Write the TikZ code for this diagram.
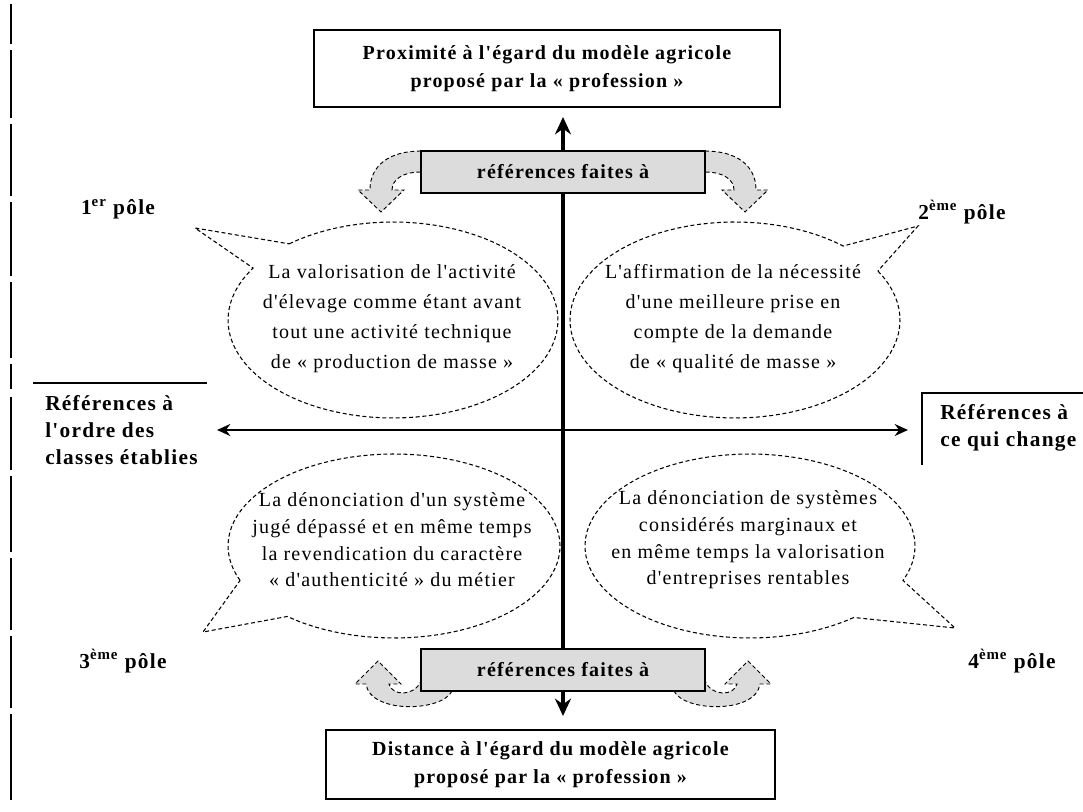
\documentclass[tikz,border=0pt]{standalone}
\usepackage{fontspec}
\setmainfont{Liberation Serif}
\newfontfamily\spaced[LetterSpace=6]{Liberation Serif}
\usetikzlibrary{arrows.meta}
\definecolor{refgray}{HTML}{DCDCDC}

\begin{document}
\begin{tikzpicture}[x=0.75pt,y=-0.75pt,
  frame/.style={draw, line width=1.5pt, fill=white, align=center, inner sep=0pt,
    font=\spaced\fontsize{15}{21}\selectfont\bfseries},
  refbox/.style={draw, line width=1.5pt, fill=refgray, inner sep=0pt,
    minimum width=213pt, minimum height=31.5pt, font=\spaced\fontsize{15}{18}\selectfont\bfseries},
  bubble/.style={draw, line width=0.8pt, dash pattern=on 3pt off 2pt},
  curl/.style={draw, fill=refgray, line width=0.7pt, dash pattern=on 3pt off 2pt},
  bubbletext/.style={align=center, inner sep=0pt, font=\spaced\fontsize{15}{22.5}\selectfont},
  bubbletextlow/.style={align=center, inner sep=0pt, font=\spaced\fontsize{15}{20}\selectfont},
  pole/.style={inner sep=0pt, font=\spaced\fontsize{16}{18}\selectfont\bfseries},
  side/.style={align=left, inner sep=0pt, font=\spaced\fontsize{16}{20.5}\selectfont\bfseries},
  vaxis/.style={line width=3.5pt, {Stealth[length=13pt,width=12pt]}-{Stealth[length=13pt,width=12pt]}},
  haxis/.style={line width=1.3pt, {Stealth[length=10pt,width=9pt]}-{Stealth[length=10pt,width=9pt]}},
  rule/.style={line width=1.3pt}
]
\useasboundingbox (0,0) rectangle (1083,812);

% page margin rule on the left
\foreach \ya/\yb in {4/44, 50/118, 124/196, 202/276, 282/358, 364/389, 397/470, 476/552, 558/630, 636/708, 714/800}
  \draw[rule] (11,\ya) -- (11,\yb);

% curved arrows beside the "références faites à" boxes
\draw[curl] (421,151) .. controls (390,151) and (370,165) .. (370,190)
  -- (358,190) -- (381,212) -- (404,190) -- (392,190)
  .. controls (392,180) and (402,172) .. (421,172) -- cycle;
\draw[curl] (705,151) .. controls (736,151) and (756,165) .. (756,190)
  -- (768,190) -- (745,212) -- (722,190) -- (734,190)
  .. controls (734,180) and (724,172) .. (705,172) -- cycle;
\draw[curl] (452,691) .. controls (442,712) and (370,714) .. (366,684)
  -- (355,684) -- (378,661) -- (401,684) -- (389,684)
  .. controls (392,696) and (414,697) .. (421,681) -- cycle;
\draw[curl] (674,691) .. controls (684,712) and (756,714) .. (760,684)
  -- (771,684) -- (748,661) -- (725,684) -- (737,684)
  .. controls (734,696) and (712,697) .. (705,681) -- cycle;

% speech bubbles
\draw[bubble] plot[domain=231:572, samples=90] ({393+165*cos(\x)},{320+98*sin(\x)}) -- (195,228) -- cycle;
\draw[bubble] plot[domain=330:671, samples=90] ({735+165*cos(\x)},{320+98*sin(\x)}) -- (918,226) -- cycle;
\draw[bubble] plot[domain=158:490, samples=90] ({394+166*cos(\x)},{546+92*sin(\x)}) -- (203,632) -- cycle;
\draw[bubble] plot[domain=51:382, samples=90] ({750+165*cos(\x)},{546+92*sin(\x)}) -- (955,628) -- cycle;

\node[bubbletext] (p1) at (392,319) {La valorisation de l'activité\\d'élevage comme étant avant\\tout une activité technique\\de «~production de masse~»};
\node[bubbletext] (p2) at (733,319) {L'affirmation de la nécessité\\d'une meilleure prise en\\compte de la demande\\de «~qualité de masse~»};
\node[bubbletextlow] (p3) at (392,540) {La dénonciation d'un système\\jugé dépassé et en même temps\\la revendication du caractère\\«~d'authenticité~» du métier};
\node[bubbletextlow] (p4) at (748,540) {La dénonciation de systèmes\\considérés marginaux et\\en même temps la valorisation\\d'entreprises rentables};

% axes
\coordinate (vtop) at (563,117);
\coordinate (vbot) at (563,716);
\coordinate (hleft) at (217,430);
\coordinate (hright) at (908,430);
\draw[vaxis] (vbot) -- (vtop);
\draw[haxis] (hleft) -- (hright);

% reference boxes on the vertical axis
\node[refbox] (reftop) at (563,172) {références faites à};
\node[refbox] (refbot) at (563,670) {références faites à};

% poles of the vertical axis
\node[frame, minimum width=349.5pt, minimum height=57.75pt] (prox) at (547,68.5)
  {Proximité à l'égard du modèle agricole\\proposé par la «~profession~»};
\node[frame, minimum width=336.75pt, minimum height=51.75pt] (dist) at (550.5,764.5)
  {Distance à l'égard du modèle agricole\\proposé par la «~profession~»};

% poles of the horizontal axis
\coordinate (lrA) at (33,383);
\coordinate (lrB) at (207,383);
\draw[rule] (lrA) -- (lrB);
\node[side, anchor=west] (ordre) at (45,430) {Références à\\l'ordre des\\classes établies};
\coordinate (rrA) at (922,465);
\coordinate (rrB) at (922,393);
\coordinate (rrC) at (1083,393);
\draw[rule] (rrA) -- (rrB) -- (rrC);
\node[side, anchor=west] (change) at (940,428) {Références à\\ce qui change};

% quadrant labels
\node[pole] (q1) at (118,209) {1\textsuperscript{er} pôle};
\node[pole] (q2) at (962,212) {2\textsuperscript{ème} pôle};
\node[pole] (q3) at (123,661) {3\textsuperscript{ème} pôle};
\node[pole] (q4) at (1012,661) {4\textsuperscript{ème} pôle};
\end{tikzpicture}
\end{document}
